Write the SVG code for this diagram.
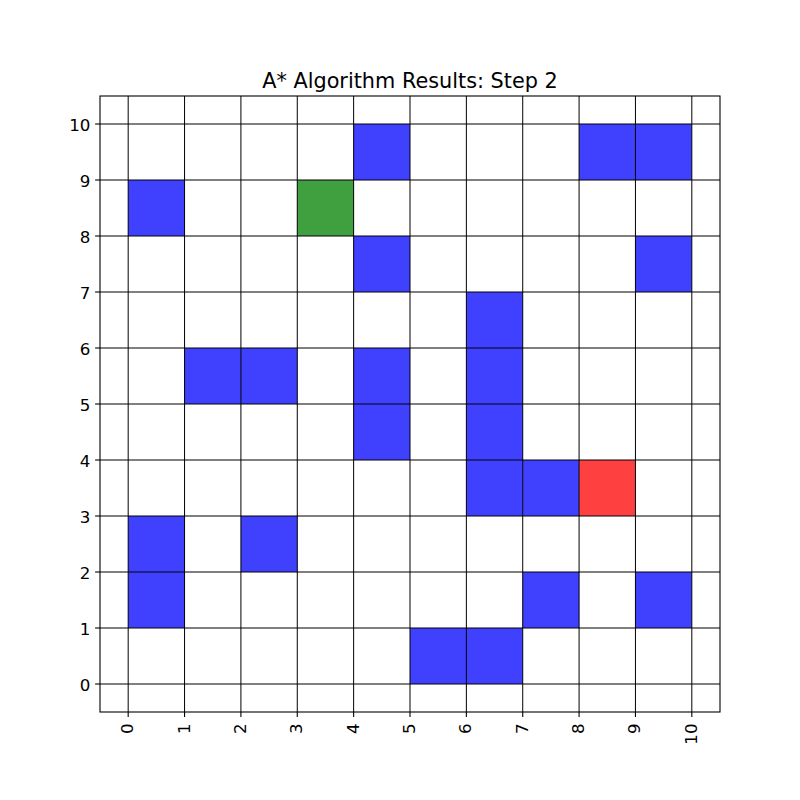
<svg xmlns="http://www.w3.org/2000/svg" width="800" height="800" viewBox="0 0 800 800">
<style>
.cell{stroke:none}
.b{fill:#4040ff}
.g{fill:#40a040}
.r{fill:#ff4040}
.grid line{stroke:#000;stroke-width:1}
.tick line{stroke:#000;stroke-width:1.1}
.lbl{font-family:"DejaVu Sans",sans-serif;font-size:16.67px;fill:#000}
.title{font-family:"DejaVu Sans",sans-serif;font-size:20.8px;fill:#000}
</style>
<rect width="800" height="800" fill="#fff"/>
<text class="title" x="410" y="88" text-anchor="middle">A* Algorithm Results: Step 2</text>
<g id="cells">
<rect class="cell b" x="353.64" y="124" width="56.36" height="56"/>
<rect class="cell b" x="579.09" y="124" width="56.36" height="56"/>
<rect class="cell b" x="635.45" y="124" width="56.36" height="56"/>
<rect class="cell b" x="128.18" y="180" width="56.36" height="56"/>
<rect class="cell b" x="353.64" y="236" width="56.36" height="56"/>
<rect class="cell b" x="635.45" y="236" width="56.36" height="56"/>
<rect class="cell b" x="466.36" y="292" width="56.36" height="56"/>
<rect class="cell b" x="184.55" y="348" width="56.36" height="56"/>
<rect class="cell b" x="240.91" y="348" width="56.36" height="56"/>
<rect class="cell b" x="353.64" y="348" width="56.36" height="56"/>
<rect class="cell b" x="466.36" y="348" width="56.36" height="56"/>
<rect class="cell b" x="353.64" y="404" width="56.36" height="56"/>
<rect class="cell b" x="466.36" y="404" width="56.36" height="56"/>
<rect class="cell b" x="466.36" y="460" width="56.36" height="56"/>
<rect class="cell b" x="522.73" y="460" width="56.36" height="56"/>
<rect class="cell b" x="128.18" y="516" width="56.36" height="56"/>
<rect class="cell b" x="240.91" y="516" width="56.36" height="56"/>
<rect class="cell b" x="128.18" y="572" width="56.36" height="56"/>
<rect class="cell b" x="522.73" y="572" width="56.36" height="56"/>
<rect class="cell b" x="635.45" y="572" width="56.36" height="56"/>
<rect class="cell b" x="410" y="628" width="56.36" height="56"/>
<rect class="cell b" x="466.36" y="628" width="56.36" height="56"/>
<rect id="start" class="cell g" x="297.27" y="180" width="56.36" height="56"/>
<rect id="current" class="cell r" x="579.09" y="460" width="56.36" height="56"/>
</g>
<g class="grid" id="grid">
<line x1="128.18" y1="96" x2="128.18" y2="712"/>
<line x1="184.55" y1="96" x2="184.55" y2="712"/>
<line x1="240.91" y1="96" x2="240.91" y2="712"/>
<line x1="297.27" y1="96" x2="297.27" y2="712"/>
<line x1="353.64" y1="96" x2="353.64" y2="712"/>
<line x1="410" y1="96" x2="410" y2="712"/>
<line x1="466.36" y1="96" x2="466.36" y2="712"/>
<line x1="522.73" y1="96" x2="522.73" y2="712"/>
<line x1="579.09" y1="96" x2="579.09" y2="712"/>
<line x1="635.45" y1="96" x2="635.45" y2="712"/>
<line x1="691.82" y1="96" x2="691.82" y2="712"/>
<line x1="100" y1="684" x2="720" y2="684"/>
<line x1="100" y1="628" x2="720" y2="628"/>
<line x1="100" y1="572" x2="720" y2="572"/>
<line x1="100" y1="516" x2="720" y2="516"/>
<line x1="100" y1="460" x2="720" y2="460"/>
<line x1="100" y1="404" x2="720" y2="404"/>
<line x1="100" y1="348" x2="720" y2="348"/>
<line x1="100" y1="292" x2="720" y2="292"/>
<line x1="100" y1="236" x2="720" y2="236"/>
<line x1="100" y1="180" x2="720" y2="180"/>
<line x1="100" y1="124" x2="720" y2="124"/>
</g>
<rect id="frame" x="100" y="96" width="620" height="616" fill="none" stroke="#000" stroke-width="1.1"/>
<g class="tick" id="xticks">
<line x1="128.18" y1="712" x2="128.18" y2="716.9"/>
<line x1="184.55" y1="712" x2="184.55" y2="716.9"/>
<line x1="240.91" y1="712" x2="240.91" y2="716.9"/>
<line x1="297.27" y1="712" x2="297.27" y2="716.9"/>
<line x1="353.64" y1="712" x2="353.64" y2="716.9"/>
<line x1="410" y1="712" x2="410" y2="716.9"/>
<line x1="466.36" y1="712" x2="466.36" y2="716.9"/>
<line x1="522.73" y1="712" x2="522.73" y2="716.9"/>
<line x1="579.09" y1="712" x2="579.09" y2="716.9"/>
<line x1="635.45" y1="712" x2="635.45" y2="716.9"/>
<line x1="691.82" y1="712" x2="691.82" y2="716.9"/>
</g>
<g class="tick" id="yticks">
<line x1="95.1" y1="684" x2="100" y2="684"/>
<line x1="95.1" y1="628" x2="100" y2="628"/>
<line x1="95.1" y1="572" x2="100" y2="572"/>
<line x1="95.1" y1="516" x2="100" y2="516"/>
<line x1="95.1" y1="460" x2="100" y2="460"/>
<line x1="95.1" y1="404" x2="100" y2="404"/>
<line x1="95.1" y1="348" x2="100" y2="348"/>
<line x1="95.1" y1="292" x2="100" y2="292"/>
<line x1="95.1" y1="236" x2="100" y2="236"/>
<line x1="95.1" y1="180" x2="100" y2="180"/>
<line x1="95.1" y1="124" x2="100" y2="124"/>
</g>
<g id="xlabels" class="lbl" text-anchor="end">
<text transform="translate(128.18,723.5) rotate(-90)" dy="0.3em">0</text>
<text transform="translate(184.55,723.5) rotate(-90)" dy="0.3em">1</text>
<text transform="translate(240.91,723.5) rotate(-90)" dy="0.3em">2</text>
<text transform="translate(297.27,723.5) rotate(-90)" dy="0.3em">3</text>
<text transform="translate(353.64,723.5) rotate(-90)" dy="0.3em">4</text>
<text transform="translate(410,723.5) rotate(-90)" dy="0.3em">5</text>
<text transform="translate(466.36,723.5) rotate(-90)" dy="0.3em">6</text>
<text transform="translate(522.73,723.5) rotate(-90)" dy="0.3em">7</text>
<text transform="translate(579.09,723.5) rotate(-90)" dy="0.3em">8</text>
<text transform="translate(635.45,723.5) rotate(-90)" dy="0.3em">9</text>
<text transform="translate(691.82,723.5) rotate(-90)" dy="0.3em">10</text>
</g>
<g id="ylabels" class="lbl" text-anchor="end">
<text x="90.4" y="684" dy="0.4em">0</text>
<text x="90.4" y="628" dy="0.4em">1</text>
<text x="90.4" y="572" dy="0.4em">2</text>
<text x="90.4" y="516" dy="0.4em">3</text>
<text x="90.4" y="460" dy="0.4em">4</text>
<text x="90.4" y="404" dy="0.4em">5</text>
<text x="90.4" y="348" dy="0.4em">6</text>
<text x="90.4" y="292" dy="0.4em">7</text>
<text x="90.4" y="236" dy="0.4em">8</text>
<text x="90.4" y="180" dy="0.4em">9</text>
<text x="90.4" y="124" dy="0.4em">10</text>
</g>
</svg>
